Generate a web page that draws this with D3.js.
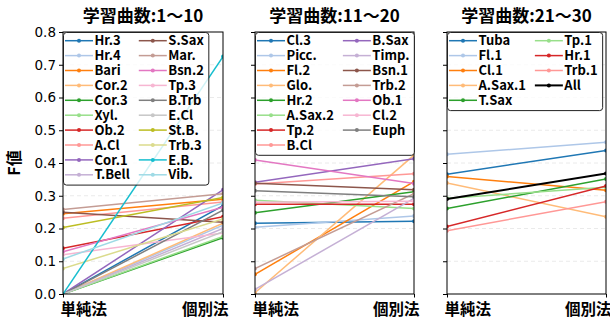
<!DOCTYPE html>
<html>
<head>
<meta charset="utf-8">
<script src="https://cdn.jsdelivr.net/npm/d3@7"></script>
<style>
  html, body { margin: 0; padding: 0; background: #fff; }
  svg { display: block; }
</style>
</head>
<body>
<svg id="chart" width="610" height="320"></svg>
<script>
// F値: 単純法 vs 個別法, grouped by number of training pieces
const methods = ["単純法", "個別法"];
const yTicks = [0, 0.1, 0.2, 0.3, 0.4, 0.5, 0.6, 0.7, 0.8];
const groupTitles = ["学習曲数:1〜10", "学習曲数:11〜20", "学習曲数:21〜30"];

const group1Names = ["Hr.3", "Hr.4", "Bari", "Cor.2", "Cor.3", "Xyl.", "Ob.2", "A.Cl", "Cor.1", "T.Bell",
                     "S.Sax", "Mar.", "Bsn.2", "Tp.3", "B.Trb", "E.Cl", "St.B.", "Trb.3", "E.B.", "Vib."];
const group1Simple = [0.0, 0.0, 0.245, 0.0, 0.0, 0.0, 0.140, 0.231, 0.0, 0.0,
                      0.250, 0.258, 0.129, 0.120, 0.0, 0.0, 0.203, 0.078, 0.0, 0.107];
const group1Indiv  = [0.270, 0.210, 0.289, 0.216, 0.172, 0.176, 0.236, 0.281, 0.318, 0.200,
                      0.219, 0.306, 0.265, 0.186, 0.256, 0.190, 0.295, 0.229, 0.725, 0.278];

const group2Names = ["Cl.3", "Picc.", "Fl.2", "Glo.", "Hr.2", "A.Sax.2", "Tp.2", "B.Cl",
                     "B.Sax", "Timp.", "Bsn.1", "Trb.2", "Ob.1", "Cl.2", "Euph"];
const group2Simple = [0.216, 0.204, 0.060, 0.004, 0.248, 0.286, 0.274, 0.336,
                      0.341, 0.014, 0.338, 0.078, 0.409, 0.280, 0.315];
const group2Indiv  = [0.222, 0.238, 0.343, 0.424, 0.312, 0.261, 0.274, 0.367,
                      0.413, 0.292, 0.318, 0.306, 0.337, 0.283, 0.297];

const group3Names = ["Tuba", "Fl.1", "Cl.1", "A.Sax.1", "T.Sax", "Tp.1", "Hr.1", "Trb.1", "All"];
const group3Simple = [0.366, 0.427, 0.359, 0.339, 0.261, 0.292, 0.206, 0.193, 0.290];
const group3Indiv  = [0.438, 0.463, 0.317, 0.236, 0.351, 0.326, 0.330, 0.282, 0.368];

// matplotlib "tab20" cycle; the overall mean is drawn in black
const tab20 = ["#1f77b4", "#aec7e8", "#ff7f0e", "#ffbb78", "#2ca02c", "#98df8a", "#d62728", "#ff9896",
               "#9467bd", "#c5b0d5", "#8c564b", "#c49c94", "#e377c2", "#f7b6d2", "#7f7f7f", "#c7c7c7",
               "#bcbd22", "#dbdb8d", "#17becf", "#9edae5"];

const groups = [
  { title: groupTitles[0], names: group1Names, simple: group1Simple, indiv: group1Indiv },
  { title: groupTitles[1], names: group2Names, simple: group2Simple, indiv: group2Indiv },
  { title: groupTitles[2], names: group3Names, simple: group3Simple, indiv: group3Indiv }
];

// ---- layout ----
const panelX = [[63, 223], [255, 414], [447, 606]];
const plotTop = 32, plotBottom = 294;
const CJK = "'Noto Sans CJK JP', sans-serif";
const NUM = "'DejaVu Sans', sans-serif";
const handleLen = 28, handleGap = 1.5, colSpacing = 9, legendPadR = 5;

const svg = d3.select("#chart");
const y = d3.scaleLinear().domain([0, 0.8]).range([plotBottom, plotTop]);

groups.forEach((g, gi) => {
  const [x0, x1] = panelX[gi];
  const x = d3.scalePoint().domain(methods).range([x0, x1]).padding(0);
  const panel = svg.append("g");

  const clipId = "clip" + gi;
  svg.append("clipPath").attr("id", clipId)
    .append("rect").attr("x", x0).attr("y", plotTop).attr("width", x1 - x0).attr("height", plotBottom - plotTop);

  // dashed horizontal grid
  panel.append("g").selectAll("line").data(yTicks.slice(1, -1)).join("line")
    .attr("x1", x0).attr("x2", x1)
    .attr("y1", d => y(d)).attr("y2", d => y(d))
    .attr("stroke", "#e4e4e4").attr("stroke-width", 0.8).attr("stroke-dasharray", "4,3");

  // series
  const series = g.names.map((n, i) => ({
    name: n,
    color: n === "All" ? "#000" : tab20[i % 20],
    width: n === "All" ? 2 : 1.5,
    pts: [[methods[0], g.simple[i]], [methods[1], g.indiv[i]]]
  }));
  const line = d3.line().x(d => x(d[0])).y(d => y(d[1]));
  const plot = panel.append("g").attr("clip-path", `url(#${clipId})`);
  series.forEach(s => {
    plot.append("path").attr("d", line(s.pts)).attr("fill", "none")
      .attr("stroke", s.color).attr("stroke-width", s.width);
    plot.selectAll(null).data(s.pts).join("circle")
      .attr("cx", d => x(d[0])).attr("cy", d => y(d[1])).attr("r", 2)
      .attr("fill", s.color);
  });

  // axes
  const yAxis = d3.axisLeft(y).tickValues(yTicks).tickSize(4).tickPadding(3)
    .tickFormat(gi === 0 ? d3.format(".1f") : () => "");
  const ya = panel.append("g").attr("transform", `translate(${x0},0)`).call(yAxis);
  ya.select(".domain").remove();
  ya.selectAll("text").attr("font-family", NUM).attr("font-size", 13.5).attr("fill", "#000");
  ya.selectAll("line").attr("stroke", "#000");

  const xAxis = d3.axisBottom(x).tickSize(3.5).tickPadding(3);
  const xa = panel.append("g").attr("transform", `translate(0,${plotBottom})`).call(xAxis);
  xa.select(".domain").remove();
  xa.selectAll("line").attr("stroke", "#000");
  xa.selectAll("text")
    .attr("font-family", CJK).attr("font-weight", "bold").attr("font-size", 15.5).attr("fill", "#000")
    .attr("text-anchor", (d, i) => i === 0 ? "start" : "end")
    .attr("dx", (d, i) => i === 0 ? -3 : 5)
    .attr("dy", "0.95em");

  // frame
  panel.append("rect").attr("x", x0).attr("y", plotTop).attr("width", x1 - x0).attr("height", plotBottom - plotTop)
    .attr("fill", "none").attr("stroke", "#000").attr("stroke-width", 1);

  // title
  panel.append("text").attr("x", (x0 + x1) / 2).attr("y", 22).attr("text-anchor", "middle")
    .attr("font-family", CJK).attr("font-weight", "bold").attr("font-size", 17).text(g.title);

  // legend (two columns, column-major)
  const nRows = Math.ceil(series.length / 2);
  const rowH = 14.9, firstRow = plotTop + 8.7;
  const lg = panel.append("g");
  const box = lg.append("rect").attr("x", x0 + 0.5).attr("y", plotTop + 0.5)
    .attr("rx", 3).attr("ry", 3)
    .attr("fill", "#fff").attr("fill-opacity", 0.8)
    .attr("stroke", "#222").attr("stroke-width", 1);

  const entries = series.map((s, i) => {
    const col = i < nRows ? 0 : 1;
    const row = col === 0 ? i : i - nRows;
    const ly = firstRow + row * rowH;
    const item = lg.append("g");
    item.append("line").attr("class", "h").attr("x1", 0).attr("x2", handleLen).attr("y1", ly).attr("y2", ly)
      .attr("stroke", s.color).attr("stroke-width", s.width);
    item.append("circle").attr("cx", handleLen / 2).attr("cy", ly).attr("r", 2).attr("fill", s.color);
    const t = item.append("text").attr("x", handleLen + handleGap).attr("y", ly).attr("dy", "0.36em")
      .attr("font-family", CJK).attr("font-weight", "bold").attr("font-size", 13).text(s.name);
    return { col, item, w: t.node().getComputedTextLength() };
  });
  const maxW = [0, 1].map(c => d3.max(entries.filter(e => e.col === c), e => e.w) || 0);
  const colX = [x0 + 2, 0];
  colX[1] = colX[0] + handleLen + handleGap + maxW[0] + colSpacing;
  entries.forEach(e => e.item.attr("transform", `translate(${colX[e.col]},0)`));
  box.attr("width", colX[1] + handleLen + handleGap + maxW[1] + legendPadR - x0 - 0.5)
     .attr("height", 8.7 + (nRows - 1) * rowH + 9.8);
});

// y-axis label
svg.append("text").attr("transform", `translate(20,${(plotTop + plotBottom) / 2}) rotate(-90)`)
  .attr("text-anchor", "middle")
  .attr("font-family", CJK).attr("font-weight", "bold").attr("font-size", 16).text("F値");
</script>
</body>
</html>
